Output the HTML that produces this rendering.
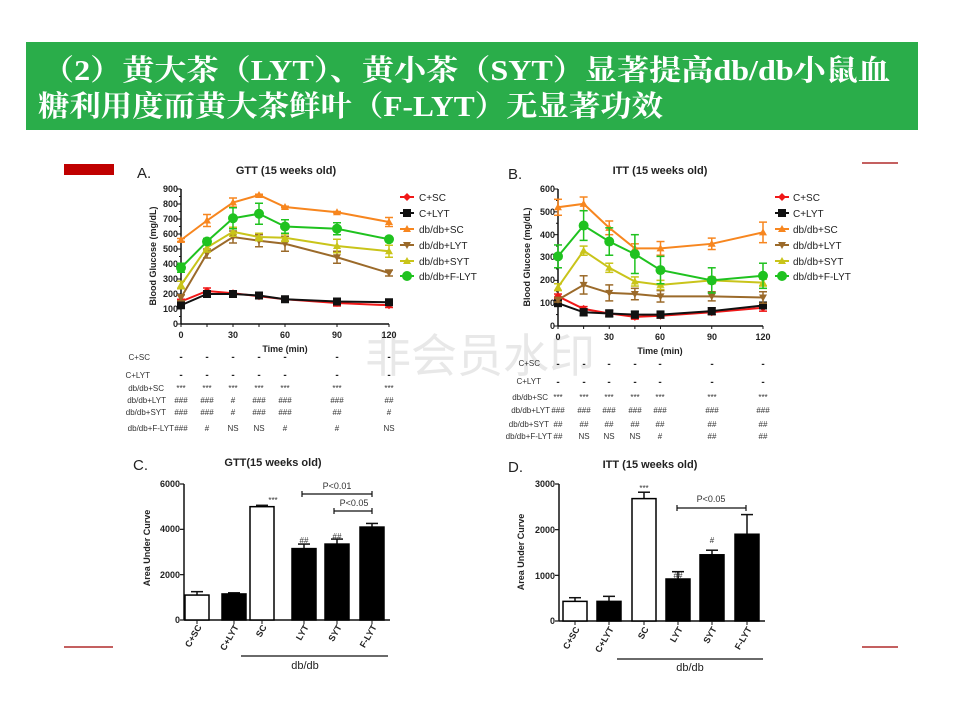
<!DOCTYPE html>
<html><head><meta charset="utf-8"><style>
body{margin:0;background:#fff}
svg{display:block;font-family:"Liberation Sans",Arial,sans-serif}
.t{font-weight:bold;font-size:9px;fill:#222}
.lg{font-size:10px;fill:#222}
.tb{font-size:8px;fill:#333}
.ds{font-size:10px;font-weight:bold;fill:#222}
.ti{font-weight:bold;font-size:11px;fill:#222}
</style></head><body>
<svg id="s" width="960" height="720" viewBox="0 0 960 720" xmlns="http://www.w3.org/2000/svg">
<rect width="960" height="720" fill="#fff"/>
<rect x="26" y="42" width="892" height="88" fill="#2aad4a"/>
<text x="42" y="80" font-family="'Liberation Serif','Noto Serif CJK SC',serif" font-weight="bold" font-size="29" fill="#fff" textLength="848" lengthAdjust="spacingAndGlyphs">（2）黄大茶（LYT）、黄小茶（SYT）显著提高db/db小鼠血</text>
<text x="38" y="116" font-family="'Liberation Serif','Noto Serif CJK SC',serif" font-weight="bold" font-size="29" fill="#fff" textLength="625" lengthAdjust="spacingAndGlyphs">糖利用度而黄大茶鲜叶（F-LYT）无显著功效</text>
<rect x="64" y="164" width="50" height="11" fill="#c00000"/>
<line x1="862" y1="163" x2="898" y2="163" stroke="#a00000" stroke-width="1.2"/>
<line x1="64" y1="647" x2="113" y2="647" stroke="#a00000" stroke-width="1.2"/>
<line x1="862" y1="647" x2="898" y2="647" stroke="#a00000" stroke-width="1.2"/>
<text x="365" y="372" font-family="'Noto Sans CJK SC',sans-serif" font-size="46" fill="#e8e8e8">非会员水印</text>

<!-- Chart A -->
<text x="137" y="178" font-size="15" fill="#222">A.</text>
<text x="286" y="174" class="ti" text-anchor="middle">GTT (15 weeks old)</text>
<g class="t" text-anchor="end">
<text x="178" y="327">0</text><text x="178" y="312">100</text><text x="178" y="297">200</text><text x="178" y="282">300</text><text x="178" y="267">400</text><text x="178" y="252">500</text><text x="178" y="237">600</text><text x="178" y="222">700</text><text x="178" y="207">800</text><text x="178" y="192">900</text>
</g>
<g class="t" text-anchor="middle">
<text x="181" y="338">0</text><text x="233" y="338">30</text><text x="285" y="338">60</text><text x="337" y="338">90</text><text x="389" y="338">120</text>
<text x="285" y="352">Time (min)</text>
</g>
<text transform="translate(156,256) rotate(-90)" class="t" text-anchor="middle">Blood Glucose (mg/dL)</text>
<g class="lg">
<text x="419" y="201">C+SC</text><text x="419" y="217">C+LYT</text><text x="419" y="233">db/db+SC</text><text x="419" y="249">db/db+LYT</text><text x="419" y="265">db/db+SYT</text><text x="419" y="280">db/db+F-LYT</text>
</g>
<g class="tb" text-anchor="end">
<text x="150" y="360">C+SC</text><text x="150" y="378">C+LYT</text><text x="164" y="391">db/db+SC</text><text x="166" y="403">db/db+LYT</text><text x="166" y="415">db/db+SYT</text><text x="174" y="431">db/db+F-LYT</text>
</g>
<g class="ds" text-anchor="middle">
<text x="181" y="360">-</text><text x="207" y="360">-</text><text x="233" y="360">-</text><text x="259" y="360">-</text><text x="285" y="360">-</text><text x="337" y="360">-</text><text x="389" y="360">-</text>
<text x="181" y="378">-</text><text x="207" y="378">-</text><text x="233" y="378">-</text><text x="259" y="378">-</text><text x="285" y="378">-</text><text x="337" y="378">-</text><text x="389" y="378">-</text>
</g>
<g class="tb" text-anchor="middle">
<text x="181" y="391">***</text><text x="207" y="391">***</text><text x="233" y="391">***</text><text x="259" y="391">***</text><text x="285" y="391">***</text><text x="337" y="391">***</text><text x="389" y="391">***</text>
<text x="181" y="403">###</text><text x="207" y="403">###</text><text x="233" y="403">#</text><text x="259" y="403">###</text><text x="285" y="403">###</text><text x="337" y="403">###</text><text x="389" y="403">##</text>
<text x="181" y="415">###</text><text x="207" y="415">###</text><text x="233" y="415">#</text><text x="259" y="415">###</text><text x="285" y="415">###</text><text x="337" y="415">##</text><text x="389" y="415">#</text>
<text x="181" y="431">###</text><text x="207" y="431">#</text><text x="233" y="431">NS</text><text x="259" y="431">NS</text><text x="285" y="431">#</text><text x="337" y="431">#</text><text x="389" y="431">NS</text>
</g>

<!-- Chart B -->
<text x="508" y="179" font-size="15" fill="#222">B.</text>
<text x="660" y="174" class="ti" text-anchor="middle">ITT (15 weeks old)</text>
<g class="t" text-anchor="end">
<text x="555" y="329">0</text><text x="555" y="306">100</text><text x="555" y="283">200</text><text x="555" y="260">300</text><text x="555" y="238">400</text><text x="555" y="215">500</text><text x="555" y="192">600</text>
</g>
<g class="t" text-anchor="middle">
<text x="558" y="340">0</text><text x="609" y="340">30</text><text x="660" y="340">60</text><text x="712" y="340">90</text><text x="763" y="340">120</text>
<text x="660" y="354">Time (min)</text>
</g>
<text transform="translate(530,257) rotate(-90)" class="t" text-anchor="middle">Blood Glucose (mg/dL)</text>
<g class="lg">
<text x="793" y="201">C+SC</text><text x="793" y="217">C+LYT</text><text x="793" y="233">db/db+SC</text><text x="793" y="249">db/db+LYT</text><text x="793" y="265">db/db+SYT</text><text x="793" y="280">db/db+F-LYT</text>
</g>
<g class="tb" text-anchor="end">
<text x="540" y="366">C+SC</text><text x="541" y="384">C+LYT</text><text x="548" y="400">db/db+SC</text><text x="550" y="413">db/db+LYT</text><text x="549" y="427">db/db+SYT</text><text x="552" y="439">db/db+F-LYT</text>
</g>
<g class="ds" text-anchor="middle">
<text x="558" y="367">-</text><text x="584" y="367">-</text><text x="609" y="367">-</text><text x="635" y="367">-</text><text x="660" y="367">-</text><text x="712" y="367">-</text><text x="763" y="367">-</text>
<text x="558" y="385">-</text><text x="584" y="385">-</text><text x="609" y="385">-</text><text x="635" y="385">-</text><text x="660" y="385">-</text><text x="712" y="385">-</text><text x="763" y="385">-</text>
</g>
<g class="tb" text-anchor="middle">
<text x="558" y="400">***</text><text x="584" y="400">***</text><text x="609" y="400">***</text><text x="635" y="400">***</text><text x="660" y="400">***</text><text x="712" y="400">***</text><text x="763" y="400">***</text>
<text x="558" y="413">###</text><text x="584" y="413">###</text><text x="609" y="413">###</text><text x="635" y="413">###</text><text x="660" y="413">###</text><text x="712" y="413">###</text><text x="763" y="413">###</text>
<text x="558" y="427">##</text><text x="584" y="427">##</text><text x="609" y="427">##</text><text x="635" y="427">##</text><text x="660" y="427">##</text><text x="712" y="427">##</text><text x="763" y="427">##</text>
<text x="558" y="439">##</text><text x="584" y="439">NS</text><text x="609" y="439">NS</text><text x="635" y="439">NS</text><text x="660" y="439">#</text><text x="712" y="439">##</text><text x="763" y="439">##</text>
</g>

<!-- Chart C -->
<text x="133" y="470" font-size="15" fill="#222">C.</text>
<text x="273" y="466" class="ti" text-anchor="middle">GTT(15 weeks old)</text>
<g class="t" text-anchor="end">
<text x="180" y="623">0</text><text x="180" y="578">2000</text><text x="180" y="532">4000</text><text x="180" y="487">6000</text>
</g>
<text transform="translate(150,548) rotate(-90)" class="t" text-anchor="middle">Area Under Curve</text>
<text x="273" y="503" class="tb" text-anchor="middle">***</text>
<text x="304" y="543" class="tb" text-anchor="middle">##</text>
<text x="337" y="539" class="tb" text-anchor="middle">##</text>
<text x="337" y="489" font-size="9" fill="#333" text-anchor="middle">P&lt;0.01</text>
<text x="354" y="506" font-size="9" fill="#333" text-anchor="middle">P&lt;0.05</text>
<g class="t" text-anchor="end">
<text transform="translate(202,627) rotate(-60)">C+SC</text><text transform="translate(239,627) rotate(-60)">C+LYT</text><text transform="translate(267,627) rotate(-60)">SC</text><text transform="translate(309,627) rotate(-60)">LYT</text><text transform="translate(342,627) rotate(-60)">SYT</text><text transform="translate(377,627) rotate(-60)">F-LYT</text>
</g>
<text x="305" y="669" font-size="11" fill="#222" text-anchor="middle">db/db</text>

<!-- Chart D -->
<text x="508" y="472" font-size="15" fill="#222">D.</text>
<text x="650" y="468" class="ti" text-anchor="middle">ITT (15 weeks old)</text>
<g class="t" text-anchor="end">
<text x="555" y="624">0</text><text x="555" y="579">1000</text><text x="555" y="533">2000</text><text x="555" y="487">3000</text>
</g>
<text transform="translate(524,552) rotate(-90)" class="t" text-anchor="middle">Area Under Curve</text>
<text x="644" y="491" class="tb" text-anchor="middle">***</text>
<text x="678" y="578" class="tb" text-anchor="middle">##</text>
<text x="712" y="543" class="tb" text-anchor="middle">#</text>
<text x="711" y="502" font-size="9" fill="#333" text-anchor="middle">P&lt;0.05</text>
<g class="t" text-anchor="end">
<text transform="translate(580,629) rotate(-60)">C+SC</text><text transform="translate(614,629) rotate(-60)">C+LYT</text><text transform="translate(649,629) rotate(-60)">SC</text><text transform="translate(683,629) rotate(-60)">LYT</text><text transform="translate(717,629) rotate(-60)">SYT</text><text transform="translate(752,629) rotate(-60)">F-LYT</text>
</g>
<text x="690" y="671" font-size="11" fill="#222" text-anchor="middle">db/db</text>
<g id="g"></g>
</svg>
<script>
var g=document.getElementById('g'),NS='http://www.w3.org/2000/svg';
function el(t,a){var e=document.createElementNS(NS,t);for(var k in a)e.setAttribute(k,a[k]);g.appendChild(e);return e;}
function ln(x1,y1,x2,y2,c,w){el('line',{x1:x1,y1:y1,x2:x2,y2:y2,stroke:c||'#111','stroke-width':w||1.5});}
var T=[0,15,30,45,60,90,120];
var cols=['#f01818','#111','#f7861f','#9b6a2a','#c9c41a','#1fc21f'];
function chart(x0,xw,y0,py,maxv,step,data,errs,lx){
  ln(x0,y0,x0+xw,y0);ln(x0,y0,x0,y0-py*maxv/100);
  for(var v=0;v<=maxv;v+=step/2){ln(x0-(v%step?2:4),y0-py*v/100,x0,y0-py*v/100,'#111',1);}
  T.forEach(function(t){ln(x0+t*xw/120,y0,x0+t*xw/120,y0+3,'#111',1);});
  data.forEach(function(d,i){
    var c=cols[i],pts=d.map(function(v,j){return [x0+T[j]*xw/120,y0-py*v/100];});
    el('polyline',{points:pts.map(function(p){return p.join(',')}).join(' '),fill:'none',stroke:c,'stroke-width':2});
    pts.forEach(function(p,j){var e=errs[i][j]*py/100;ln(p[0],p[1]-e,p[0],p[1]+e,c,1.5);ln(p[0]-4,p[1]-e,p[0]+4,p[1]-e,c,1.5);ln(p[0]-4,p[1]+e,p[0]+4,p[1]+e,c,1.5);mk(i,p[0],p[1],c);});
    var ly=197+i*16-(i>4?1:0);ln(lx,ly,lx+14,ly,c,2);mk(i,lx+7,ly,c);
  });
}
function mk(i,x,y,c){
  if(i==1)el('rect',{x:x-4,y:y-4,width:8,height:8,fill:c});
  else if(i==5)el('circle',{cx:x,cy:y,r:5,fill:c});
  else if(i==0)el('path',{d:'M'+(x)+','+(y-4)+'L'+(x+4)+','+y+'L'+x+','+(y+4)+'L'+(x-4)+','+y+'Z',fill:c});
  else if(i==3)el('path',{d:'M'+(x-4)+','+(y-3)+'L'+(x+4)+','+(y-3)+'L'+x+','+(y+4)+'Z',fill:c});
  else el('path',{d:'M'+(x-4)+','+(y+3)+'L'+(x+4)+','+(y+3)+'L'+x+','+(y-4)+'Z',fill:c});
}
chart(181,208,324,15,900,100,
 [[150,220,205,185,165,140,125],[125,200,200,190,165,150,145],[560,690,810,860,780,745,680],[175,470,580,555,535,445,340],[260,510,615,580,575,520,485],[375,550,705,735,650,635,565]],
 [[15,20,15,15,20,20,15],[10,15,15,10,15,15,10],[10,40,30,5,5,5,30],[20,30,40,40,50,40,20],[25,30,30,25,25,45,40],[30,20,70,70,45,40,15]],400);
chart(558,205,326,22.83,600,100,
 [[130,75,55,40,45,60,80],[100,60,55,50,50,65,90],[520,535,430,340,340,360,410],[115,180,145,140,130,130,125],[170,330,255,195,180,200,190],[305,440,370,315,245,200,220]],
 [[10,10,10,10,10,10,15],[10,15,15,15,15,15,10],[35,30,30,20,30,25,45],[10,40,35,25,25,20,25],[15,20,20,20,20,15,15],[50,65,60,85,60,55,55]],775);
function bars(x0,y0,pu,top,stp,cx,vals,err,white,x1){
  ln(x0,y0,x1,y0);ln(x0,y0,x0,y0-top*pu);
  for(var v=0;v<=top;v+=stp)ln(x0-4,y0-v*pu,x0,y0-v*pu,'#111',1.2);
  cx.forEach(function(c,i){var h=vals[i]*pu,e=err[i]*pu;
    ln(c,y0-e,c,y0-h,'#111',1.5);ln(c-6,y0-e,c+6,y0-e,'#111',1.5);
    el('rect',{x:c-12,y:y0-h,width:24,height:h,fill:white[i]?'#fff':'#000',stroke:'#000','stroke-width':1.5});
    ln(c,y0,c,y0+4,'#111',1);});
}
bars(184,620,136/6000,6000,2000,[197,234,262,304,337,372],[1100,1150,5000,3150,3350,4100],[1250,1200,5060,3350,3570,4260],[1,0,1,0,0,0],390);
bars(559,621,137/3000,3000,1000,[575,609,644,678,712,747],[430,430,2680,920,1450,1900],[510,540,2820,1080,1550,2330],[1,0,1,0,0,0],765);
function br(a,b,y){ln(a,y,b,y,'#111',1.2);ln(a,y-3,a,y+3,'#111',1.2);ln(b,y-3,b,y+3,'#111',1.2);}
br(302,372,494);br(334,372,511);br(677,746,508);
ln(241,656,388,656,'#111',1.2);ln(617,659,763,659,'#111',1.2);
</script>
</body></html>
